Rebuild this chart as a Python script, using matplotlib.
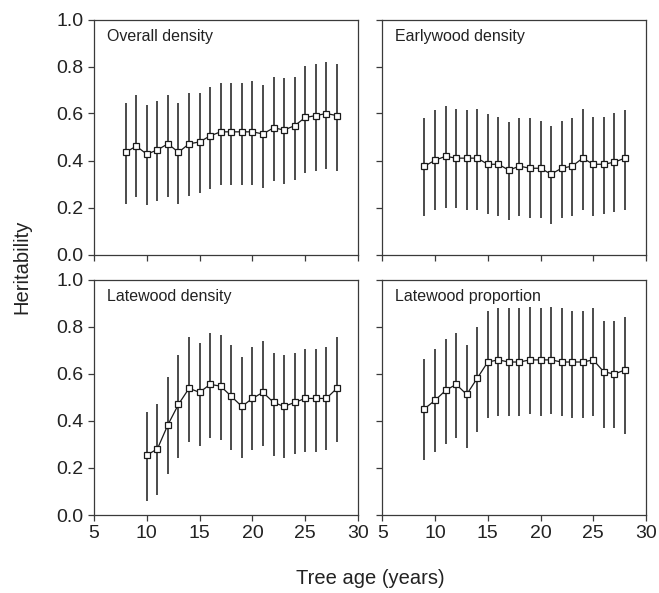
import numpy as np
import matplotlib
matplotlib.use("Agg")
import matplotlib.pyplot as plt

plt.rcParams['font.family'] = ['Liberation Sans', 'DejaVu Sans']

# heritability estimates and their upper / lower limits by tree age
overall_age = list(range(8, 29))
overall_h = [0.435, 0.461, 0.427, 0.445, 0.471, 0.435, 0.471, 0.479, 0.505, 0.522, 0.522,
             0.522, 0.522, 0.513, 0.539, 0.530, 0.548, 0.583, 0.591, 0.600, 0.591]
overall_hi = [0.645, 0.679, 0.637, 0.655, 0.679, 0.645, 0.688, 0.688, 0.713, 0.730, 0.730,
              0.730, 0.740, 0.722, 0.757, 0.749, 0.757, 0.801, 0.810, 0.818, 0.810]
overall_lo = [0.217, 0.243, 0.209, 0.226, 0.243, 0.217, 0.251, 0.260, 0.277, 0.294, 0.294,
              0.294, 0.294, 0.285, 0.311, 0.302, 0.319, 0.346, 0.355, 0.363, 0.355]

early_age = list(range(9, 29))
early_h = [0.376, 0.401, 0.418, 0.410, 0.410, 0.410, 0.384, 0.384, 0.359, 0.376,
           0.367, 0.367, 0.342, 0.367, 0.376, 0.410, 0.384, 0.384, 0.393, 0.410]
early_hi = [0.579, 0.613, 0.630, 0.621, 0.613, 0.621, 0.596, 0.587, 0.562, 0.579,
            0.579, 0.570, 0.545, 0.570, 0.579, 0.621, 0.587, 0.587, 0.604, 0.613]
early_lo = [0.165, 0.189, 0.199, 0.199, 0.189, 0.189, 0.173, 0.165, 0.148, 0.165,
            0.156, 0.156, 0.130, 0.156, 0.165, 0.189, 0.165, 0.173, 0.182, 0.189]

late_age = list(range(10, 29))
late_h = [0.255, 0.281, 0.384, 0.471, 0.539, 0.522, 0.556, 0.548, 0.505, 0.462,
          0.496, 0.522, 0.479, 0.462, 0.479, 0.496, 0.496, 0.496, 0.539]
late_hi = [0.440, 0.474, 0.587, 0.681, 0.759, 0.733, 0.776, 0.767, 0.725, 0.672,
           0.716, 0.742, 0.689, 0.681, 0.689, 0.708, 0.708, 0.716, 0.759]
late_lo = [0.061, 0.087, 0.173, 0.243, 0.311, 0.294, 0.328, 0.319, 0.277, 0.243,
           0.277, 0.294, 0.251, 0.243, 0.260, 0.268, 0.268, 0.277, 0.311]

prop_age = list(range(9, 29))
prop_h = [0.452, 0.488, 0.530, 0.556, 0.513, 0.582, 0.651, 0.660, 0.651, 0.651,
          0.660, 0.660, 0.660, 0.651, 0.651, 0.651, 0.660, 0.609, 0.600, 0.617]
prop_hi = [0.664, 0.706, 0.750, 0.776, 0.725, 0.801, 0.870, 0.879, 0.879, 0.879,
           0.887, 0.879, 0.887, 0.879, 0.870, 0.870, 0.879, 0.827, 0.827, 0.844]
prop_lo = [0.234, 0.268, 0.302, 0.328, 0.285, 0.353, 0.414, 0.423, 0.423, 0.423,
           0.431, 0.423, 0.431, 0.423, 0.414, 0.414, 0.423, 0.372, 0.372, 0.346]

panels = [
    ("Overall density", overall_age, overall_h, overall_lo, overall_hi),
    ("Earlywood density", early_age, early_h, early_lo, early_hi),
    ("Latewood density", late_age, late_h, late_lo, late_hi),
    ("Latewood proportion", prop_age, prop_h, prop_lo, prop_hi),
]

W, H = 659, 593
fig = plt.figure(figsize=(W / 100, H / 100), dpi=100)

# axes boxes in pixels: left, top, right, bottom
boxes = [(94, 19.5, 358, 254.5), (382.3, 19.5, 646, 254.5),
         (94, 280, 358, 515), (382.3, 280, 646, 515)]

spine_col = '#3a3a3a'
for i, (name, age, h, lo, hi) in enumerate(panels):
    l, t, r, b = boxes[i]
    ax = fig.add_axes([l / W, 1 - b / H, (r - l) / W, (b - t) / H])
    age = np.array(age)
    h = np.array(h)
    ax.vlines(age, lo, hi, color='#1a1a1a', lw=1.1, zorder=1)
    ax.plot(age, h, color='#1a1a1a', lw=0.9, marker='s', ms=4.9,
            mfc='white', mec='#1a1a1a', mew=0.9, zorder=3)
    ax.set_xlim(5, 30)
    ax.set_ylim(0, 1.0)
    ax.set_xticks(range(5, 31, 5))
    ax.set_yticks(np.arange(0, 1.01, 0.2))
    ax.tick_params(direction='out', length=4.5, width=0.9, color=spine_col,
                   labelsize=14, labelcolor='#222222', pad=3)
    for s in ax.spines.values():
        s.set_color(spine_col)
        s.set_linewidth(0.9)
    if i < 2:
        ax.tick_params(labelbottom=False)
    else:
        ax.set_xticklabels([str(v) for v in range(5, 31, 5)])
    if i % 2 == 1:
        ax.tick_params(labelleft=False)
    else:
        ax.set_yticklabels(['%.1f' % v for v in np.arange(0, 1.01, 0.2)])
    ax.text(0.05, 0.96, name, transform=ax.transAxes, ha='left', va='top',
            fontsize=11.5, color='#222222')

fig.text(22 / W, 1 - 267 / H, "Heritability", rotation=90, ha='center', va='center',
         fontsize=14.5, color='#222222')
fig.text(370 / W, 1 - 578 / H, "Tree age (years)", ha='center', va='center',
         fontsize=14.5, color='#222222')

fig.savefig("out.png", dpi=100)
